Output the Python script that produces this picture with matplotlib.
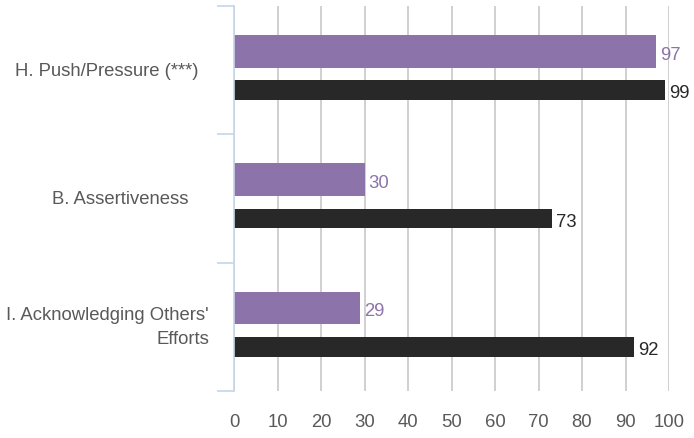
import numpy as np
import matplotlib
matplotlib.use('Agg')
import matplotlib.pyplot as plt

plt.rcParams['font.family'] = ['Liberation Sans', 'DejaVu Sans']

# categories top to bottom, two series per category
categories = ["H. Push/Pressure (***)  ",
              "B. Assertiveness    ",
              "I. Acknowledging Others'\nEfforts"]
purple_vals = [97, 30, 29]
black_vals = [99, 73, 92]
xticks = list(range(0, 101, 10))

C_PURPLE = '#8c74aa'
C_BLACK = '#282828'
C_GRID = '#c8c8c8'
C_AXIS = '#c6d6e8'
C_TEXT = '#595959'
FS = 13.3

fig = plt.figure(figsize=(6.94, 4.39), dpi=100)
ax = fig.add_axes([0.3372, 0.107, 0.9640 - 0.3372, 0.984 - 0.107])

y = np.arange(len(categories))
bp = ax.barh(y - 0.146, purple_vals, height=0.255, color=C_PURPLE, zorder=3)
bb = ax.barh(y + 0.155, black_vals, height=0.152, color=C_BLACK, zorder=3)

for bars, vals, col in ((bp, purple_vals, C_PURPLE), (bb, black_vals, C_BLACK)):
    for r, v in zip(bars, vals):
        ax.annotate(str(v), (v, r.get_y() + r.get_height() / 2),
                    xytext=(3, -2), textcoords='offset points',
                    ha='left', va='center', fontsize=FS, color=col)

ax.set_xlim(0, 100)
ax.set_ylim(len(categories) - 0.5, -0.5)
ax.set_xticks(xticks)
ax.set_xticklabels([str(t) for t in xticks], fontsize=FS, color=C_TEXT)
ax.tick_params(axis='x', length=0, pad=16)

# category boundaries carry the tick marks, labels sit at the centers
ax.set_yticks(np.arange(len(categories) + 1) - 0.5)
ax.set_yticklabels([])
ax.set_yticks(y, minor=True)
ax.set_yticklabels(categories, minor=True, fontsize=FS, color=C_TEXT,
                   linespacing=1.55)
for lab in ax.get_yticklabels(minor=True):
    lab.set_va('center')
ax.tick_params(axis='y', which='major', length=12, width=1.2, color=C_AXIS)
ax.tick_params(axis='y', which='minor', length=0, pad=18)

ax.grid(axis='x', color=C_GRID, linewidth=1.2, zorder=0)
for s in ('top', 'right', 'bottom'):
    ax.spines[s].set_visible(False)
ax.spines['left'].set_color(C_AXIS)
ax.spines['left'].set_linewidth(1.2)
ax.spines['left'].set_zorder(4)

fig.savefig('out.png', dpi=100)
